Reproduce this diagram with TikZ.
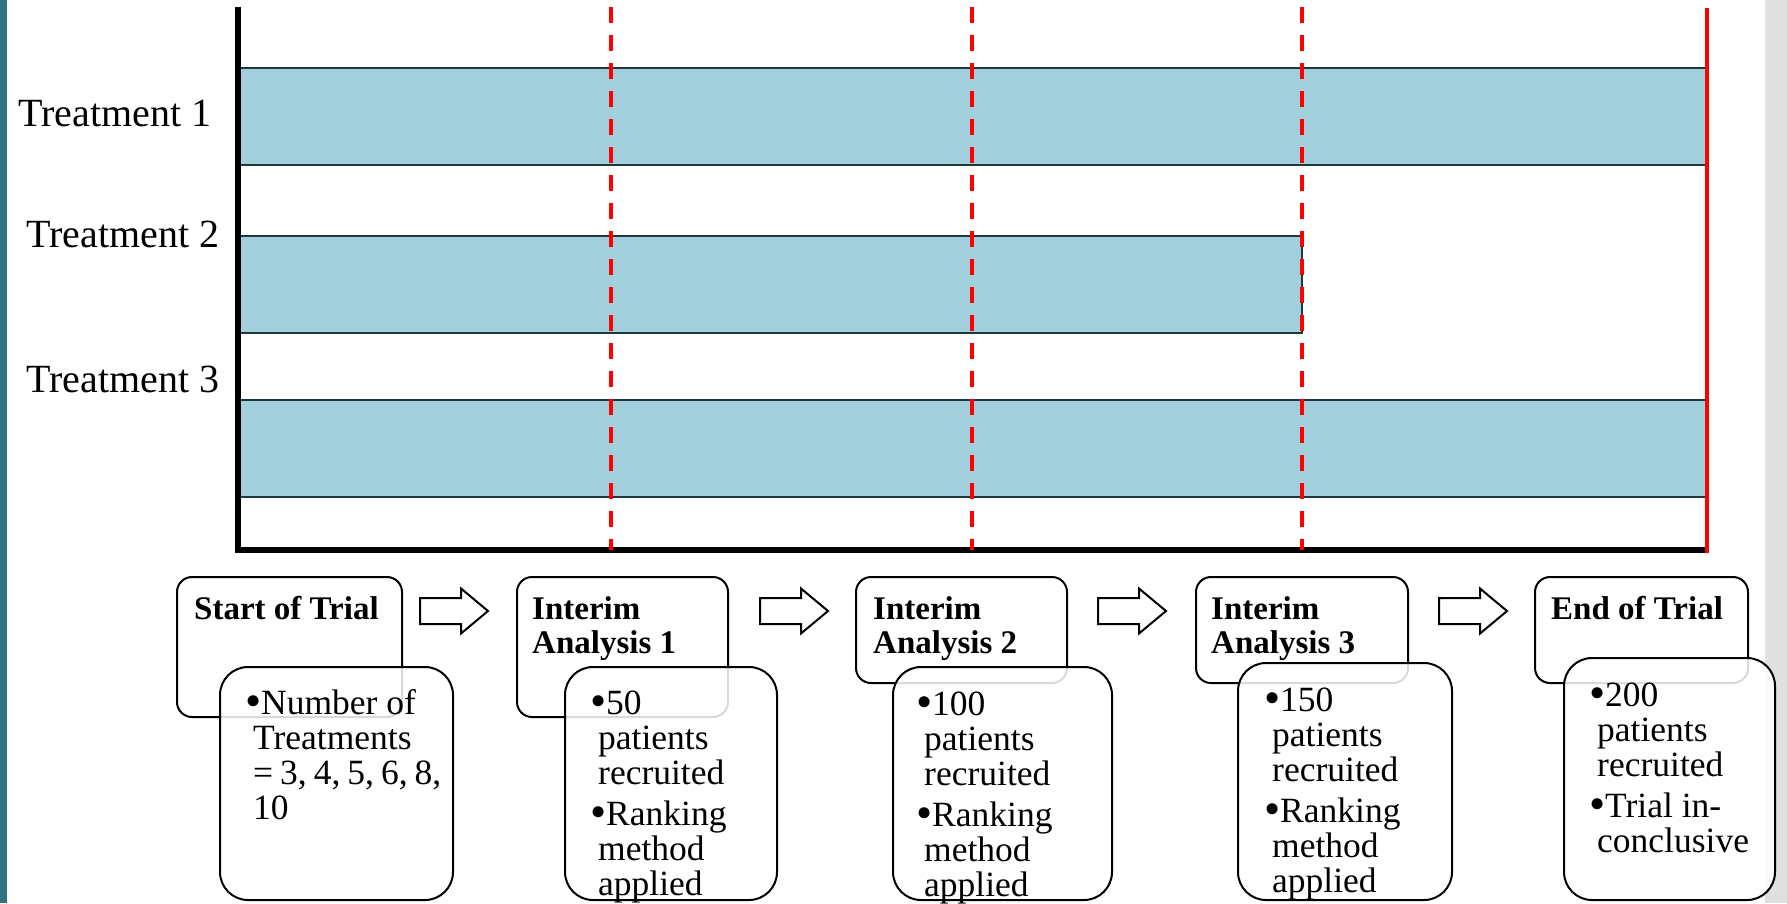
\documentclass[tikz,border=0pt]{standalone}
\usepackage{fontspec}
\usepackage{graphicx}
\setmainfont{Liberation Serif}
\definecolor{barfill}{RGB}{161,207,219}
\definecolor{barline}{RGB}{31,56,61}
\definecolor{stripteal}{RGB}{51,115,127}
\definecolor{stripgray}{RGB}{224,224,224}
\newcommand{\flowarrow}[1]{%
  \draw[blockarr] ({#1},598) -- ({#1+41},598) -- ({#1+41},588.5) -- ({#1+68},611)
    -- ({#1+41},633.5) -- ({#1+41},624) -- ({#1},624) -- cycle;}
\newcommand{\lines}[1]{\begin{tabular}[t]{@{}l@{}}#1\end{tabular}}
\newcommand{\bul}{\makebox[16pt][l]{\raisebox{-2.5pt}{\scalebox{1.3}{•}}}}
\newcommand{\ind}{\hspace*{8pt}}
\begin{document}
\begin{tikzpicture}[x=1pt,y=-1pt,
  barbox/.style={fill=barfill, draw=barline, line width=2.5pt},
  reddash/.style={draw=red, line width=4pt, dash pattern=on 16pt off 12pt},
  upbox/.style={draw=black, fill=white, rounded corners=15pt, line width=2pt, inner sep=0pt},
  lowbox/.style={draw=black, fill=white, fill opacity=0.85, rounded corners=28pt, line width=2pt, inner sep=0pt},
  blockarr/.style={draw=black, fill=white, line width=2pt, line join=miter},
  lbl/.style={anchor=base west, inner sep=0pt, font=\fontsize{40}{48}\selectfont},
  hdr/.style={anchor=base west, inner sep=0pt, font=\fontsize{33}{34}\selectfont\bfseries},
  body/.style={anchor=base west, inner sep=0pt, font=\fontsize{35.5}{35}\selectfont}]
\useasboundingbox (0,0) rectangle (1787,903);
\fill[white] (0,0) rectangle (1787,903);
\fill[stripteal] (0,0) rectangle (7,903);
\fill[stripgray] (1765,0) rectangle (1787,903);

% treatment bars
\draw[barbox] (238,68) rectangle (1707,165);
\draw[barbox] (238,236) rectangle (1302,333);
\draw[barbox] (238,400) rectangle (1707,497);

% labels
\node[lbl] (t1) at (18,126) {Treatment 1};
\node[lbl] (t2) at (26,247) {Treatment 2};
\node[lbl] (t3) at (26,392) {Treatment 3};

% axes
\draw[black, line width=6pt] (238,7) -- (238,553);
\draw[black, line width=6pt] (235,550) -- (1709,550);

% interim lines
\draw[reddash] (611,7) -- (611,550);
\draw[reddash] (972,7) -- (972,550);
\draw[reddash] (1302,7) -- (1302,550);
\draw[red, line width=4pt] (1707,8) -- (1707,553);

% upper boxes
\node[upbox, minimum width=225pt, minimum height=140pt] (u1) at (289.5,647) {};
\node[upbox, minimum width=211pt, minimum height=140pt] (u2) at (622.5,647) {};
\node[upbox, minimum width=211pt, minimum height=106pt] (u3) at (961.5,630) {};
\node[upbox, minimum width=212pt, minimum height=106pt] (u4) at (1302,630) {};
\node[upbox, minimum width=213pt, minimum height=106pt] (u5) at (1641.5,630) {};

% lower boxes
\node[lowbox, minimum width=233pt, minimum height=233pt] (l1) at (336.5,783.5) {};
\node[lowbox, minimum width=212pt, minimum height=233pt] (l2) at (671,783.5) {};
\node[lowbox, minimum width=219pt, minimum height=233pt] (l3) at (1002.5,783.5) {};
\node[lowbox, minimum width=214pt, minimum height=237pt] (l4) at (1345,781.5) {};
\node[lowbox, minimum width=211pt, minimum height=242pt] (l5) at (1669.5,779) {};

% arrows
\flowarrow{420}
\flowarrow{760}
\flowarrow{1098}
\flowarrow{1439}

% headers
\node[hdr] (h1) at (194,619) {\lines{Start of Trial}};
\node[hdr] (h2) at (532,619) {\lines{Interim\\Analysis 1}};
\node[hdr] (h3) at (873,619) {\lines{Interim\\Analysis 2}};
\node[hdr] (h4) at (1211,619) {\lines{Interim\\Analysis 3}};
\node[hdr] (h5) at (1551,619) {\lines{End of Trial}};

% bodies
\node[body] (b1) at (245,714) {\lines{\bul Number of\\\ind Treatments\\\ind {\spaceskip=7pt = 3, 4, 5, 6, 8,}\\\ind 10}};
\node[body] (b2) at (590,714) {\lines{\bul 50\\\ind patients\\\ind recruited\\[6pt]\bul Ranking\\\ind method\\\ind applied}};
\node[body] (b3) at (916,715) {\lines{\bul 100\\\ind patients\\\ind recruited\\[6pt]\bul Ranking\\\ind method\\\ind applied}};
\node[body] (b4) at (1264,711) {\lines{\bul 150\\\ind patients\\\ind recruited\\[6pt]\bul Ranking\\\ind method\\\ind applied}};
\node[body] (b5) at (1589,706) {\lines{\bul 200\\\ind patients\\\ind recruited\\[6pt]\bul Trial in-\\\ind conclusive}};
\end{tikzpicture}
\end{document}
